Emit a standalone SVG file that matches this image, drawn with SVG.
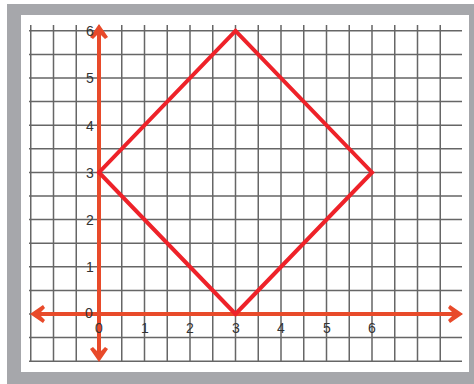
<svg xmlns="http://www.w3.org/2000/svg" width="474" height="384" viewBox="0 0 474 384">
<style>
.grid{stroke:#666;stroke-width:1.5;fill:none}
.axis{stroke:#E84A2A;stroke-width:4;fill:none}
.head{fill:#E84A2A}
.shape{stroke:#EE2229;stroke-width:4;fill:none;stroke-linejoin:miter}
.lbl{font-family:"Liberation Sans",Arial,sans-serif;font-size:14px;fill:#333;text-anchor:middle}
</style>
<rect x="0" y="0" width="474" height="384" fill="#fff"/>
<rect x="7" y="4" width="467" height="380" fill="#A6A7AB"/>
<rect x="21" y="15" width="448" height="357" fill="#fff"/>
<g id="grid">
<path class="grid" d="M30.75,25V361.2M53.5,25V361.2M76.25,25V361.2M99,25V361.2M121.75,25V361.2M144.5,25V361.2M167.25,25V361.2M190,25V361.2M212.75,25V361.2M235.5,25V361.2M258.25,25V361.2M281,25V361.2M303.75,25V361.2M326.5,25V361.2M349.25,25V361.2M372,25V361.2M394.75,25V361.2M417.5,25V361.2M440.25,25V361.2"/>
<path class="grid" d="M29,361.2H462M29,337.6H462M29,314H462M29,290.4H462M29,266.8H462M29,243.2H462M29,219.6H462M29,196H462M29,172.4H462M29,148.8H462M29,125.2H462M29,101.6H462M29,78H462M29,54.4H462M29,30.8H462"/>
</g>
<g id="axes">
<path class="axis" d="M99,30V356M36,314H457"/>
<path class="head" d="M99,24L108,37L105,39L99,33L93,39L90,37Z"/>
<path class="head" d="M99,362L108,349L105,347L99,353L93,347L90,349Z"/>
<path class="head" d="M30,314L43,305L45,308L39,314L45,320L43,323Z"/>
<path class="head" d="M463,314L450,305L448,308L454,314L448,320L450,323Z"/>
</g>
<g id="diamond">
<path class="shape" d="M235.5,30.8L372,172.4L235.5,314L99,172.4Z"/>
</g>
<g id="ylabels">
<text class="lbl" x="90" y="36">6</text>
<text class="lbl" x="90" y="83">5</text>
<text class="lbl" x="90" y="131">4</text>
<text class="lbl" x="90" y="178">3</text>
<text class="lbl" x="90" y="225">2</text>
<text class="lbl" x="90" y="272">1</text>
<text class="lbl" x="89" y="318">0</text>
</g>
<g id="xlabels">
<text class="lbl" x="99" y="333">0</text>
<text class="lbl" x="145" y="333">1</text>
<text class="lbl" x="190" y="333">2</text>
<text class="lbl" x="236" y="333">3</text>
<text class="lbl" x="281" y="333">4</text>
<text class="lbl" x="327" y="333">5</text>
<text class="lbl" x="372" y="333">6</text>
</g>
</svg>
